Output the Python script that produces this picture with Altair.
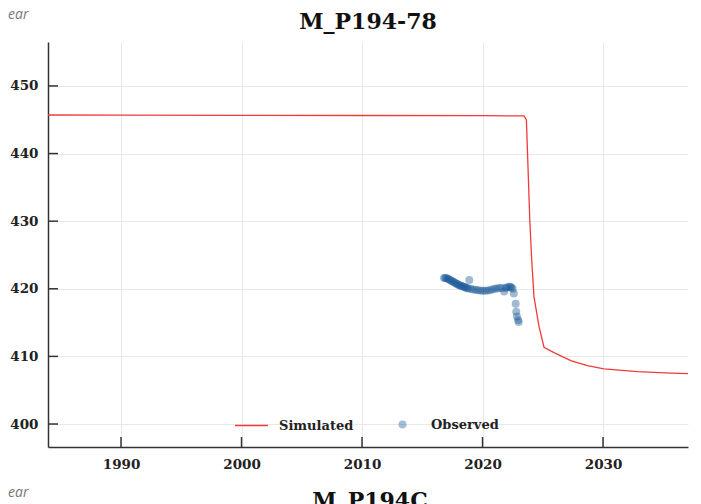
import altair as alt
import pandas as pd

# ---------------- data ----------------
sim_year = [1983.94, 1990, 2000, 2010, 2020, 2023.44, 2023.64, 2023.92, 2024.08,
            2024.27, 2024.69, 2025.10, 2025.93, 2027.32, 2028.70, 2030.08,
            2032.85, 2035.62, 2037.05]
sim_head = [445.7, 445.68, 445.66, 445.63, 445.6, 445.56, 444.97, 430.2, 424.3,
            418.8, 414.4, 411.35, 410.55, 409.37, 408.62, 408.14,
            407.74, 407.54, 407.45]

obs_year = [2016.8, 2016.9, 2017.0, 2017.1, 2017.2, 2017.3, 2017.4, 2017.5, 2017.6,
            2017.7, 2017.8, 2017.9, 2018.0, 2018.1, 2018.2, 2018.3, 2018.4, 2018.5,
            2018.6, 2018.7, 2018.8, 2018.9, 2019.0, 2019.2, 2019.4, 2019.6, 2019.8,
            2020.0, 2020.2, 2020.4, 2020.6, 2020.8, 2021.0, 2021.2, 2021.4, 2021.6,
            2021.8, 2021.9, 2022.0, 2022.2, 2022.3, 2022.4, 2022.5, 2022.6, 2022.75,
            2022.8, 2022.85, 2022.95, 2023.0]
obs_head = [421.6, 421.6, 421.6, 421.5, 421.4, 421.3, 421.2, 421.1, 421.0,
            420.9, 420.8, 420.7, 420.6, 420.5, 420.45, 420.4, 420.3, 420.25,
            420.2, 420.1, 420.05, 421.3, 420.0, 419.9, 419.85, 419.8, 419.75,
            419.7, 419.7, 419.75, 419.8, 419.9, 420.0, 420.05, 420.1, 420.1,
            419.6, 420.1, 420.2, 420.3, 420.3, 420.2, 420.0, 419.3, 417.8,
            416.6, 415.9, 415.4, 415.1]

x_ticks = [1990, 2000, 2010, 2020, 2030]
y_ticks = [400, 410, 420, 430, 440, 450]

title_text = "M_P194-78"
next_title = "M_P194C"
axis_fragment = "ear"
series_names = ["Simulated", "Observed"]

# ---------------- styling ----------------
W, H = 640, 405
FONT = "DejaVu Serif"
RED = "#ef3b3b"
BLUE = "#1d5a98"
AXC = "#333333"

sim = pd.DataFrame({"year": sim_year, "head": sim_head, "series": series_names[0]})
obs = pd.DataFrame({"year": obs_year, "head": obs_head, "series": series_names[1]})
xt = pd.DataFrame({"v": x_ticks})
yt = pd.DataFrame({"v": y_ticks})

xs = alt.Scale(domain=[1983.94, 2037.05], nice=False, zero=False)
ys = alt.Scale(domain=[396.6, 456.5], nice=False, zero=False)

xaxis = alt.Axis(values=x_ticks, format="d", ticks=False, labelPadding=10,
                 labelFont=FONT, labelFontSize=13.5, labelFontWeight="bold",
                 labelColor="#222222", domainColor=AXC, domainWidth=1.5,
                 gridColor="#e8e8e8", gridWidth=1, title=None)
yaxis = alt.Axis(values=y_ticks, ticks=False, labelPadding=10,
                 labelFont=FONT, labelFontSize=13.5, labelFontWeight="bold",
                 labelColor="#222222", domainColor=AXC, domainWidth=1.5,
                 gridColor="#e8e8e8", gridWidth=1, title=None)

X = lambda f: alt.X(f, scale=xs, axis=xaxis)
Y = lambda f: alt.Y(f, scale=ys, axis=yaxis)

line = alt.Chart(sim).mark_line(strokeWidth=1.3, clip=True).encode(
    x=X("year:Q"), y=Y("head:Q"),
    color=alt.Color("series:N",
                    scale=alt.Scale(domain=[series_names[0]], range=[RED]),
                    legend=alt.Legend(orient="none", legendX=186, legendY=366,
                                      title=None, symbolType="stroke",
                                      symbolSize=1089, symbolStrokeWidth=1.5,
                                      labelOffset=10, labelFont=FONT,
                                      labelFontSize=13, labelFontWeight="bold",
                                      labelColor="#222222")),
)

pts = alt.Chart(obs).mark_circle(size=64, opacity=0.42).encode(
    x=X("year:Q"), y=Y("head:Q"),
    color=alt.Color("series:N",
                    scale=alt.Scale(domain=[series_names[1]], range=[BLUE]),
                    legend=alt.Legend(orient="none", legendX=348, legendY=376,
                                      title=None, symbolType="circle",
                                      symbolSize=64, symbolOpacity=0.4,
                                      labelOffset=22, labelFont=FONT,
                                      labelFontSize=13, labelFontWeight="bold",
                                      labelColor="#222222")),
)

xtick = alt.Chart(xt).mark_rule(color=AXC, strokeWidth=1.5).encode(
    x=X("v:Q"), y=alt.value(H), y2=alt.value(H - 10))
ytick = alt.Chart(yt).mark_rule(color=AXC, strokeWidth=1.5).encode(
    y=Y("v:Q"), x=alt.value(0), x2=alt.value(10))

ttl = alt.Chart(pd.DataFrame({"t": [title_text]})).mark_text(
    font=FONT, fontSize=22, fontWeight="bold", color="#111111",
    align="center", baseline="alphabetic").encode(
    text="t:N", x=alt.value(W / 2), y=alt.value(-13))
ttl2 = alt.Chart(pd.DataFrame({"t": [next_title]})).mark_text(
    font=FONT, fontSize=22, fontWeight="bold", color="#111111",
    align="center", baseline="alphabetic").encode(
    text="t:N", x=alt.value(W / 2 + 2), y=alt.value(466))
frag = alt.Chart(pd.DataFrame({"t": [axis_fragment, axis_fragment],
                               "yy": [-23, 455]})).mark_text(
    font="Open Sans", fontSize=14, fontStyle="italic", color="#777777",
    align="left", baseline="alphabetic").encode(
    text="t:N", x=alt.value(-40), y=alt.Y("yy:Q", scale=None))

chart = alt.layer(line, pts, xtick, ytick, ttl, ttl2, frag).resolve_scale(
    color="independent").resolve_legend(color="independent").properties(
    width=W, height=H,
    autosize=alt.AutoSizeParams(type="none"),
    padding={"left": 40, "top": 34, "right": 5, "bottom": 70},
).configure_view(stroke=None)

chart.save("out.html", embed_options={"renderer": "svg", "actions": False})
